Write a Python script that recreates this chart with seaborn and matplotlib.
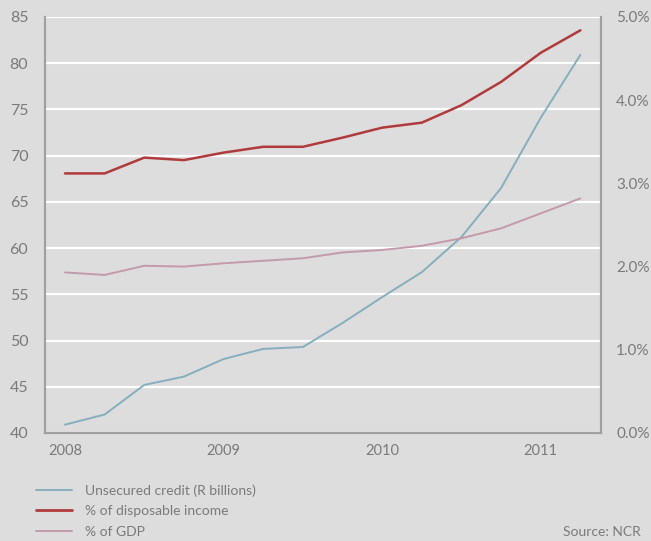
import matplotlib
matplotlib.use("Agg")
import matplotlib.pyplot as plt
import seaborn as sns
import pandas as pd
from matplotlib.lines import Line2D
from matplotlib.ticker import FuncFormatter

quarters = [2008.0, 2008.25, 2008.5, 2008.75, 2009.0, 2009.25, 2009.5, 2009.75,
            2010.0, 2010.25, 2010.5, 2010.75, 2011.0, 2011.25]
unsecured = [40.9, 42.0, 45.2, 46.1, 48.0, 49.1, 49.3, 51.9, 54.7, 57.4, 61.2, 66.5, 74.1, 80.9]
disp_income = [3.12, 3.12, 3.31, 3.28, 3.37, 3.44, 3.44, 3.55, 3.67, 3.73, 3.94, 4.22, 4.57, 4.84]
gdp = [1.93, 1.90, 2.01, 2.00, 2.04, 2.07, 2.10, 2.17, 2.20, 2.25, 2.34, 2.46, 2.64, 2.82]
year_ticks = [2008, 2009, 2010, 2011]
labels = ["Unsecured credit (R billions)", "% of disposable income", "% of GDP"]

c_blue = "#86aebd"
c_red = "#b03a3c"
c_pink = "#c49aab"
bg = "#dddddd"
tc = "#7a7a7a"

sns.set_theme(style="white")
plt.rcParams['font.family'] = ['Lato', 'DejaVu Sans']

df = pd.DataFrame({"q": quarters, "u": unsecured, "d": disp_income, "g": gdp})

fig = plt.figure(figsize=(6.51, 5.41), dpi=100, facecolor=bg)
ax = fig.add_axes([45/651, 1-433/541, 556/651, 416/541])
ax.set_facecolor(bg)
ax2 = ax.twinx()

sns.lineplot(data=df, x="q", y="u", ax=ax, color=c_blue, lw=1.4)
sns.lineplot(data=df, x="q", y="d", ax=ax2, color=c_red, lw=1.8)
sns.lineplot(data=df, x="q", y="g", ax=ax2, color=c_pink, lw=1.4)

ax.set_xlim(2007.874, 2011.38)
ax.set_ylim(40, 85)
ax2.set_ylim(0, 5)
ax.set_yticks(range(40, 86, 5))
ax2.set_yticks([0, 1, 2, 3, 4, 5])
ax2.yaxis.set_major_formatter(FuncFormatter(lambda v, p: f"{v:.1f}%"))
ax.set_xticks(year_ticks)
ax.set_xticklabels([str(y) for y in year_ticks])
ax.grid(axis="y", color="white", lw=1.6)
ax.set_axisbelow(True)
ax.set_xlabel("")
ax.set_ylabel("")
ax2.set_ylabel("")
ax2.set_xlabel("")

for a in (ax, ax2):
    a.spines["top"].set_visible(False)
    for s in ("left", "right", "bottom"):
        a.spines[s].set_color("#a0a0a0")
        a.spines[s].set_linewidth(1.5)
ax.tick_params(axis="y", length=0, pad=12, labelsize=11.5, labelcolor=tc)
ax.tick_params(axis="x", length=0, pad=8, labelsize=10.5, labelcolor=tc)
ax2.tick_params(axis="y", length=0, pad=11, labelsize=11, labelcolor=tc)

handles = [Line2D([], [], color=c_blue, lw=1.4),
           Line2D([], [], color=c_red, lw=2.0),
           Line2D([], [], color=c_pink, lw=1.4)]
fig.legend(handles, labels, loc="center left", bbox_to_anchor=(36/651, 1-511/541),
           frameon=False, fontsize=10, labelcolor=tc, handlelength=2.6,
           handletextpad=0.95, labelspacing=0.62, borderaxespad=0, borderpad=0)
fig.text(641/651, 1-532/541, "Source: NCR", ha="right", va="center", fontsize=10, color=tc)

fig.savefig("out.png", dpi=100, facecolor=bg)
